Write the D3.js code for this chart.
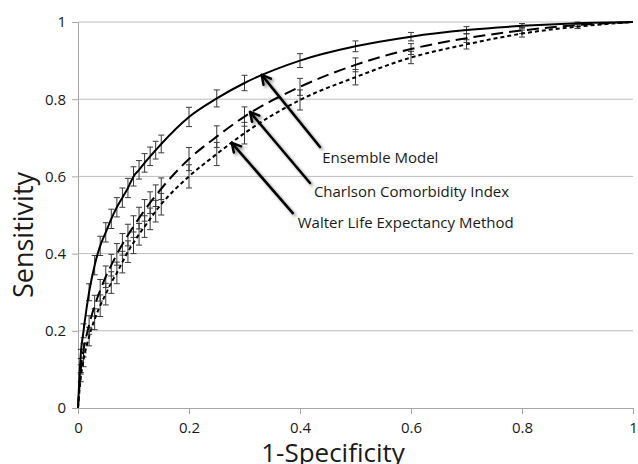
<!DOCTYPE html>
<html>
<head>
<meta charset="utf-8">
<script src="https://cdn.jsdelivr.net/npm/d3@7"></script>
<style>
  body { margin: 0; background: #fff; }
  text { font-family: "Open Sans", sans-serif; fill: #1a1a1a; }
</style>
</head>
<body>
<div id="chart"></div>
<script>
// 1-specificity values where the curves were sampled
const fpr = [0, 0.005, 0.01, 0.02, 0.03, 0.04, 0.05, 0.06, 0.07, 0.08, 0.09, 0.1, 0.11, 0.12, 0.13, 0.14, 0.15, 0.2, 0.25, 0.3, 0.4, 0.5, 0.6, 0.7, 0.8, 0.9, 1];

const ensemble = [0, 0.14, 0.2, 0.3, 0.37, 0.42, 0.455, 0.49, 0.52, 0.545, 0.57, 0.6, 0.617, 0.635, 0.652, 0.668, 0.684, 0.754, 0.802, 0.842, 0.9, 0.937, 0.962, 0.979, 0.99, 0.997, 1];
const charlson = [0, 0.1, 0.15, 0.215, 0.265, 0.305, 0.34, 0.37, 0.398, 0.424, 0.448, 0.47, 0.492, 0.512, 0.532, 0.55, 0.568, 0.645, 0.703, 0.755, 0.832, 0.889, 0.93, 0.958, 0.978, 0.992, 1];
const walter = [0, 0.08, 0.125, 0.185, 0.23, 0.265, 0.295, 0.325, 0.35, 0.378, 0.405, 0.428, 0.45, 0.47, 0.49, 0.51, 0.528, 0.6, 0.658, 0.712, 0.798, 0.857, 0.908, 0.942, 0.97, 0.988, 1];

// half widths of the error bars
const ensembleErr = [0, 0.012, 0.018, 0.022, 0.025, 0.025, 0.025, 0.025, 0.025, 0.025, 0.025, 0.025, 0.024, 0.024, 0.024, 0.023, 0.023, 0.025, 0.022, 0.02, 0.018, 0.014, 0.011, 0.009, 0.006, 0.003, 0];
const charlsonErr = [0, 0.012, 0.018, 0.024, 0.027, 0.028, 0.028, 0.028, 0.028, 0.028, 0.028, 0.028, 0.028, 0.028, 0.028, 0.028, 0.028, 0.03, 0.028, 0.025, 0.022, 0.018, 0.014, 0.011, 0.008, 0.004, 0];
const walterErr = [0, 0.012, 0.018, 0.024, 0.027, 0.028, 0.028, 0.028, 0.028, 0.028, 0.028, 0.028, 0.028, 0.028, 0.028, 0.028, 0.028, 0.03, 0.03, 0.028, 0.026, 0.02, 0.016, 0.012, 0.009, 0.005, 0];

const ticks = [0, 0.2, 0.4, 0.6, 0.8, 1];

// annotation text and arrow ends, in data units
const labels = ['Ensemble Model', 'Charlson Comorbidity Index', 'Walter Life Expectancy Method'];
const labelPos = [[0.44, 0.635], [0.425, 0.547], [0.396, 0.466]];
const arrowTail = [[0.436, 0.676], [0.418, 0.583], [0.387, 0.505]];
const arrowTip = [[0.331, 0.863], [0.31, 0.767], [0.277, 0.687]];

const width = 638, height = 464;
const margin = {left: 78, top: 22, right: 5, bottom: 56};

const x = d3.scaleLinear().domain([0, 1]).range([margin.left, width - margin.right]);
const y = d3.scaleLinear().domain([0, 1]).range([height - margin.bottom, margin.top]);

const svg = d3.select('#chart').append('svg')
    .attr('width', width).attr('height', height);

const defs = svg.append('defs');
const shadow = defs.append('filter').attr('id', 'shadow')
    .attr('x', '-20%').attr('y', '-20%').attr('width', '150%').attr('height', '150%');
shadow.append('feDropShadow').attr('dx', 2).attr('dy', 2)
    .attr('stdDeviation', 1.6).attr('flood-color', '#000').attr('flood-opacity', 0.45);

// grid lines
svg.append('g').selectAll('line').data(ticks.slice(1)).join('line')
    .attr('x1', x(0)).attr('x2', x(1))
    .attr('y1', d => y(d)).attr('y2', d => y(d))
    .attr('stroke', '#bdbdbd').attr('stroke-width', 1);

const yAxis = d3.axisLeft(y).tickValues(ticks).tickFormat(d3.format('')).tickSize(6).tickPadding(6);
const xAxis = d3.axisBottom(x).tickValues(ticks).tickFormat(d3.format('')).tickSize(6).tickPadding(8);

const gy = svg.append('g').attr('transform', 'translate(' + x(0) + ',0)').call(yAxis);
const gx = svg.append('g').attr('transform', 'translate(0,' + y(0) + ')').call(xAxis);
[gx, gy].forEach(g => {
  g.select('.domain').attr('stroke', '#a6a6a6');
  g.selectAll('.tick line').attr('stroke', '#a6a6a6');
  g.selectAll('.tick text').attr('font-size', 15).attr('fill', '#1a1a1a')
    .attr('font-family', '"Open Sans", sans-serif');
});

// error bars
const series = [
  {values: ensemble, err: ensembleErr, dash: null},
  {values: charlson, err: charlsonErr, dash: '12,6'},
  {values: walter, err: walterErr, dash: '4,3'}
];

const bars = svg.append('g').attr('stroke', '#3a3a3a').attr('stroke-width', 1);
series.forEach(s => {
  fpr.forEach((f, i) => {
    if (s.err[i] === 0) return;
    const lo = y(s.values[i] - s.err[i]), hi = y(s.values[i] + s.err[i]), cx = x(f);
    bars.append('line').attr('x1', cx).attr('x2', cx).attr('y1', lo).attr('y2', hi);
    bars.append('line').attr('x1', cx - 3).attr('x2', cx + 3).attr('y1', lo).attr('y2', lo);
    bars.append('line').attr('x1', cx - 3).attr('x2', cx + 3).attr('y1', hi).attr('y2', hi);
  });
});

// curves
const line = d3.line()
    .x((d, i) => x(fpr[i]))
    .y(d => y(d))
    .curve(d3.curveMonotoneX);

series.forEach(s => {
  svg.append('path').attr('d', line(s.values))
    .attr('fill', 'none').attr('stroke', '#000').attr('stroke-width', 2)
    .attr('stroke-dasharray', s.dash);
});

// annotations
const notes = svg.append('g');
labels.forEach((t, i) => {
  const x1 = x(arrowTail[i][0]), y1 = y(arrowTail[i][1]);
  const x2 = x(arrowTip[i][0]), y2 = y(arrowTip[i][1]);
  const a = Math.atan2(y2 - y1, x2 - x1);
  const h = 10, spread = 0.5;
  const g = notes.append('g').attr('filter', 'url(#shadow)')
      .attr('stroke', '#000').attr('stroke-width', 2.5).attr('fill', 'none')
      .attr('stroke-linecap', 'round').attr('stroke-linejoin', 'round');
  g.append('line').attr('x1', x1).attr('y1', y1).attr('x2', x2).attr('y2', y2);
  g.append('path').attr('d',
    'M' + (x2 - h * Math.cos(a - spread)) + ',' + (y2 - h * Math.sin(a - spread)) +
    'L' + x2 + ',' + y2 +
    'L' + (x2 - h * Math.cos(a + spread)) + ',' + (y2 - h * Math.sin(a + spread)));
  notes.append('text').attr('x', x(labelPos[i][0])).attr('y', y(labelPos[i][1]))
    .attr('font-size', 15).text(t);
});

// axis titles
svg.append('text').attr('x', 333).attr('y', 462).attr('text-anchor', 'middle')
    .attr('font-size', 26).text('1-Specificity');
svg.append('text').attr('transform', 'translate(33,235) rotate(-90)')
    .attr('text-anchor', 'middle').attr('font-size', 27).text('Sensitivity');
</script>
</body>
</html>
